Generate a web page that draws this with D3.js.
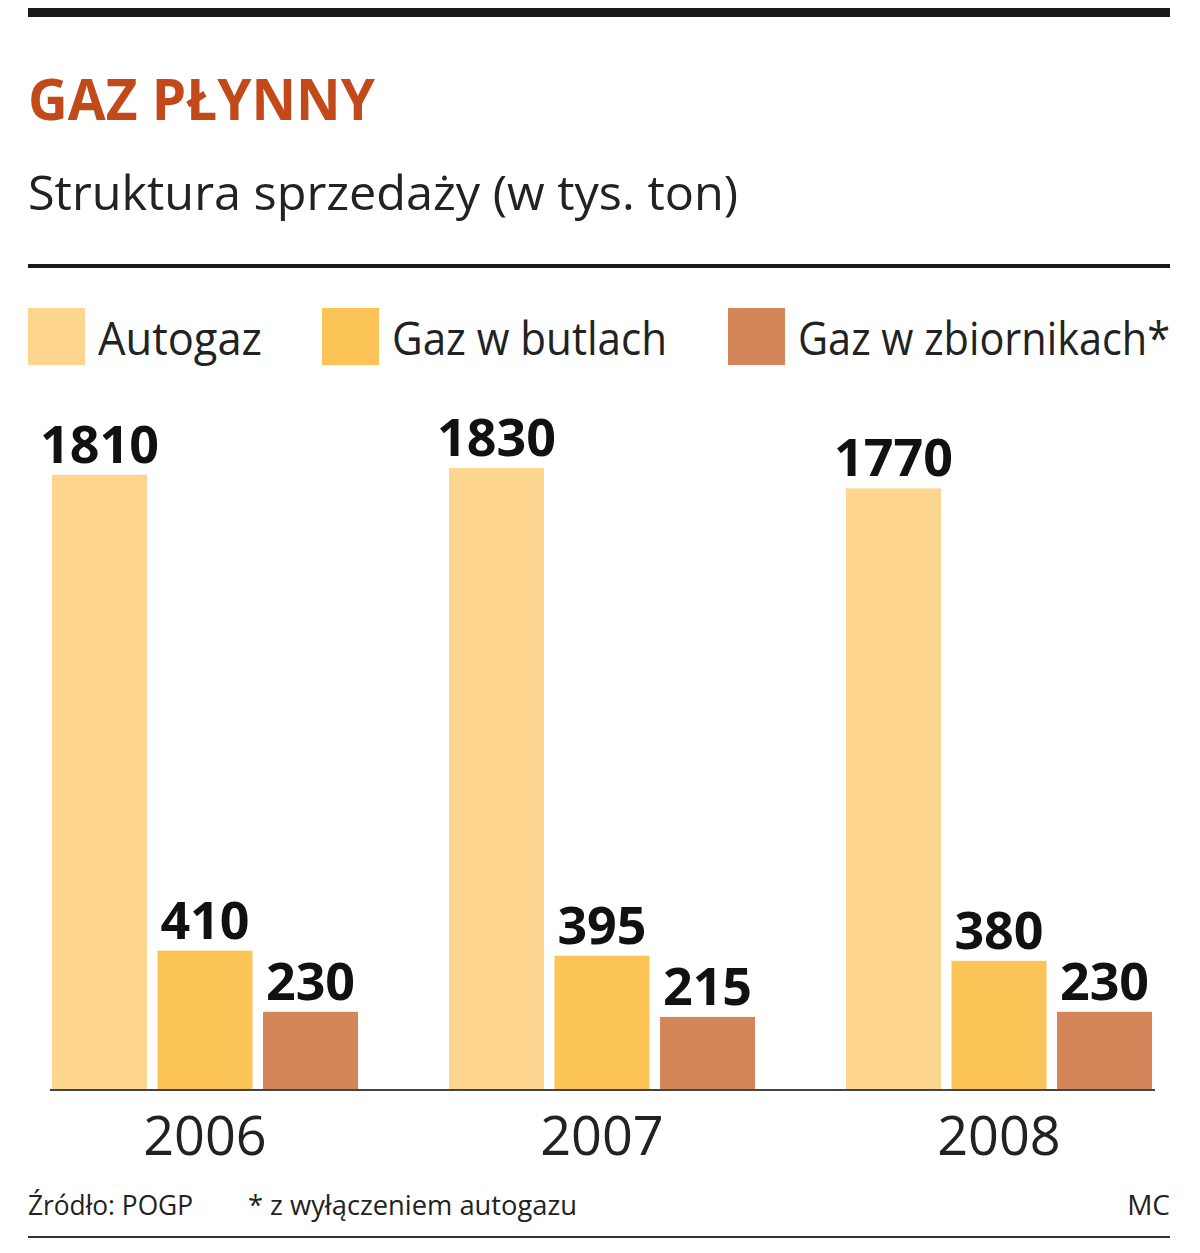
<!DOCTYPE html><html><head><meta charset="utf-8">
<script src="https://cdn.jsdelivr.net/npm/d3@7/dist/d3.min.js"></script>
<style>body{margin:0;background:#fff}</style></head><body>
<script>
const years=["2006","2007","2008"];
const series=["Autogaz","Gaz w butlach","Gaz w zbiornikach*"];
const autogaz=[1810,1830,1770];
const butle=[410,395,380];
const zbiorniki=[230,215,230];
const colors=["#fdd58e","#fcc456","#d4855a"];
const vals=[autogaz,butle,zbiorniki];
const F='"Liberation Sans Narrow","Open Sans",sans-serif';
const svg=d3.select("body").append("svg").attr("width",1200).attr("height",1253);
svg.append("rect").attr("x",28).attr("y",8).attr("width",1142).attr("height",9).attr("fill","#1a1a1a");
svg.append("text").attr("x",28).attr("y",120).text("GAZ PŁYNNY").attr("font-family",F).attr("font-weight","bold").attr("font-size",58).attr("fill","#c24a1a").attr("textLength",347).attr("lengthAdjust","spacingAndGlyphs");
svg.append("text").attr("x",28).attr("y",210).text("Struktura sprzedaży (w tys. ton)").attr("font-family",F).attr("font-size",48).attr("fill","#222").attr("textLength",710).attr("lengthAdjust","spacingAndGlyphs");
svg.append("rect").attr("x",28).attr("y",264).attr("width",1142).attr("height",4).attr("fill","#1a1a1a");
const lx=[28,322,728], lw=[164,275,372];
series.forEach((s,i)=>{
 svg.append("rect").attr("x",lx[i]).attr("y",308).attr("width",57).attr("height",57).attr("fill",colors[i]);
 svg.append("text").attr("x",lx[i]+70).attr("y",355).text(s).attr("font-family",F).attr("font-size",46).attr("fill","#222").attr("textLength",lw[i]).attr("lengthAdjust","spacingAndGlyphs");
});
const y=d3.scaleLinear().domain([0,1830]).range([1090,468]);
const x0=d3.scaleBand().domain(years).range([52,1243]);
const x1=d3.scaleBand().domain(series).range([0,306]).paddingInner(0.1);
years.forEach((yr,j)=>{
 series.forEach((s,i)=>{
  const v=vals[i][j],x=x0(yr)+x1(s);
  svg.append("rect").attr("x",x).attr("y",y(v)).attr("width",x1.bandwidth()).attr("height",1090-y(v)).attr("fill",colors[i]);
  svg.append("text").attr("x",x+x1.bandwidth()/2).attr("y",y(v)-12).attr("text-anchor","middle").text(v).attr("font-family",F).attr("font-weight","bold").attr("font-size",52).attr("fill","#111");
 });
 svg.append("text").attr("x",x0(yr)+153).attr("y",1155).attr("text-anchor","middle").text(yr).attr("font-family",F).attr("font-size",54).attr("fill","#222");
});
svg.append("line").attr("x1",50).attr("x2",1155).attr("y1",1090).attr("y2",1090).attr("stroke","#444").attr("stroke-width",2);
const ft=(x,t,a,w)=>{const e=svg.append("text").attr("x",x).attr("y",1215).attr("text-anchor",a).text(t).attr("font-family",F).attr("font-size",28).attr("fill","#222");if(w)e.attr("textLength",w).attr("lengthAdjust","spacingAndGlyphs");};
ft(28,"Źródło: POGP","start",165);ft(248,"* z wyłączeniem autogazu","start",329);ft(1170,"MC","end");
svg.append("rect").attr("x",28).attr("y",1236).attr("width",1142).attr("height",2).attr("fill","#333");
</script></body></html>
